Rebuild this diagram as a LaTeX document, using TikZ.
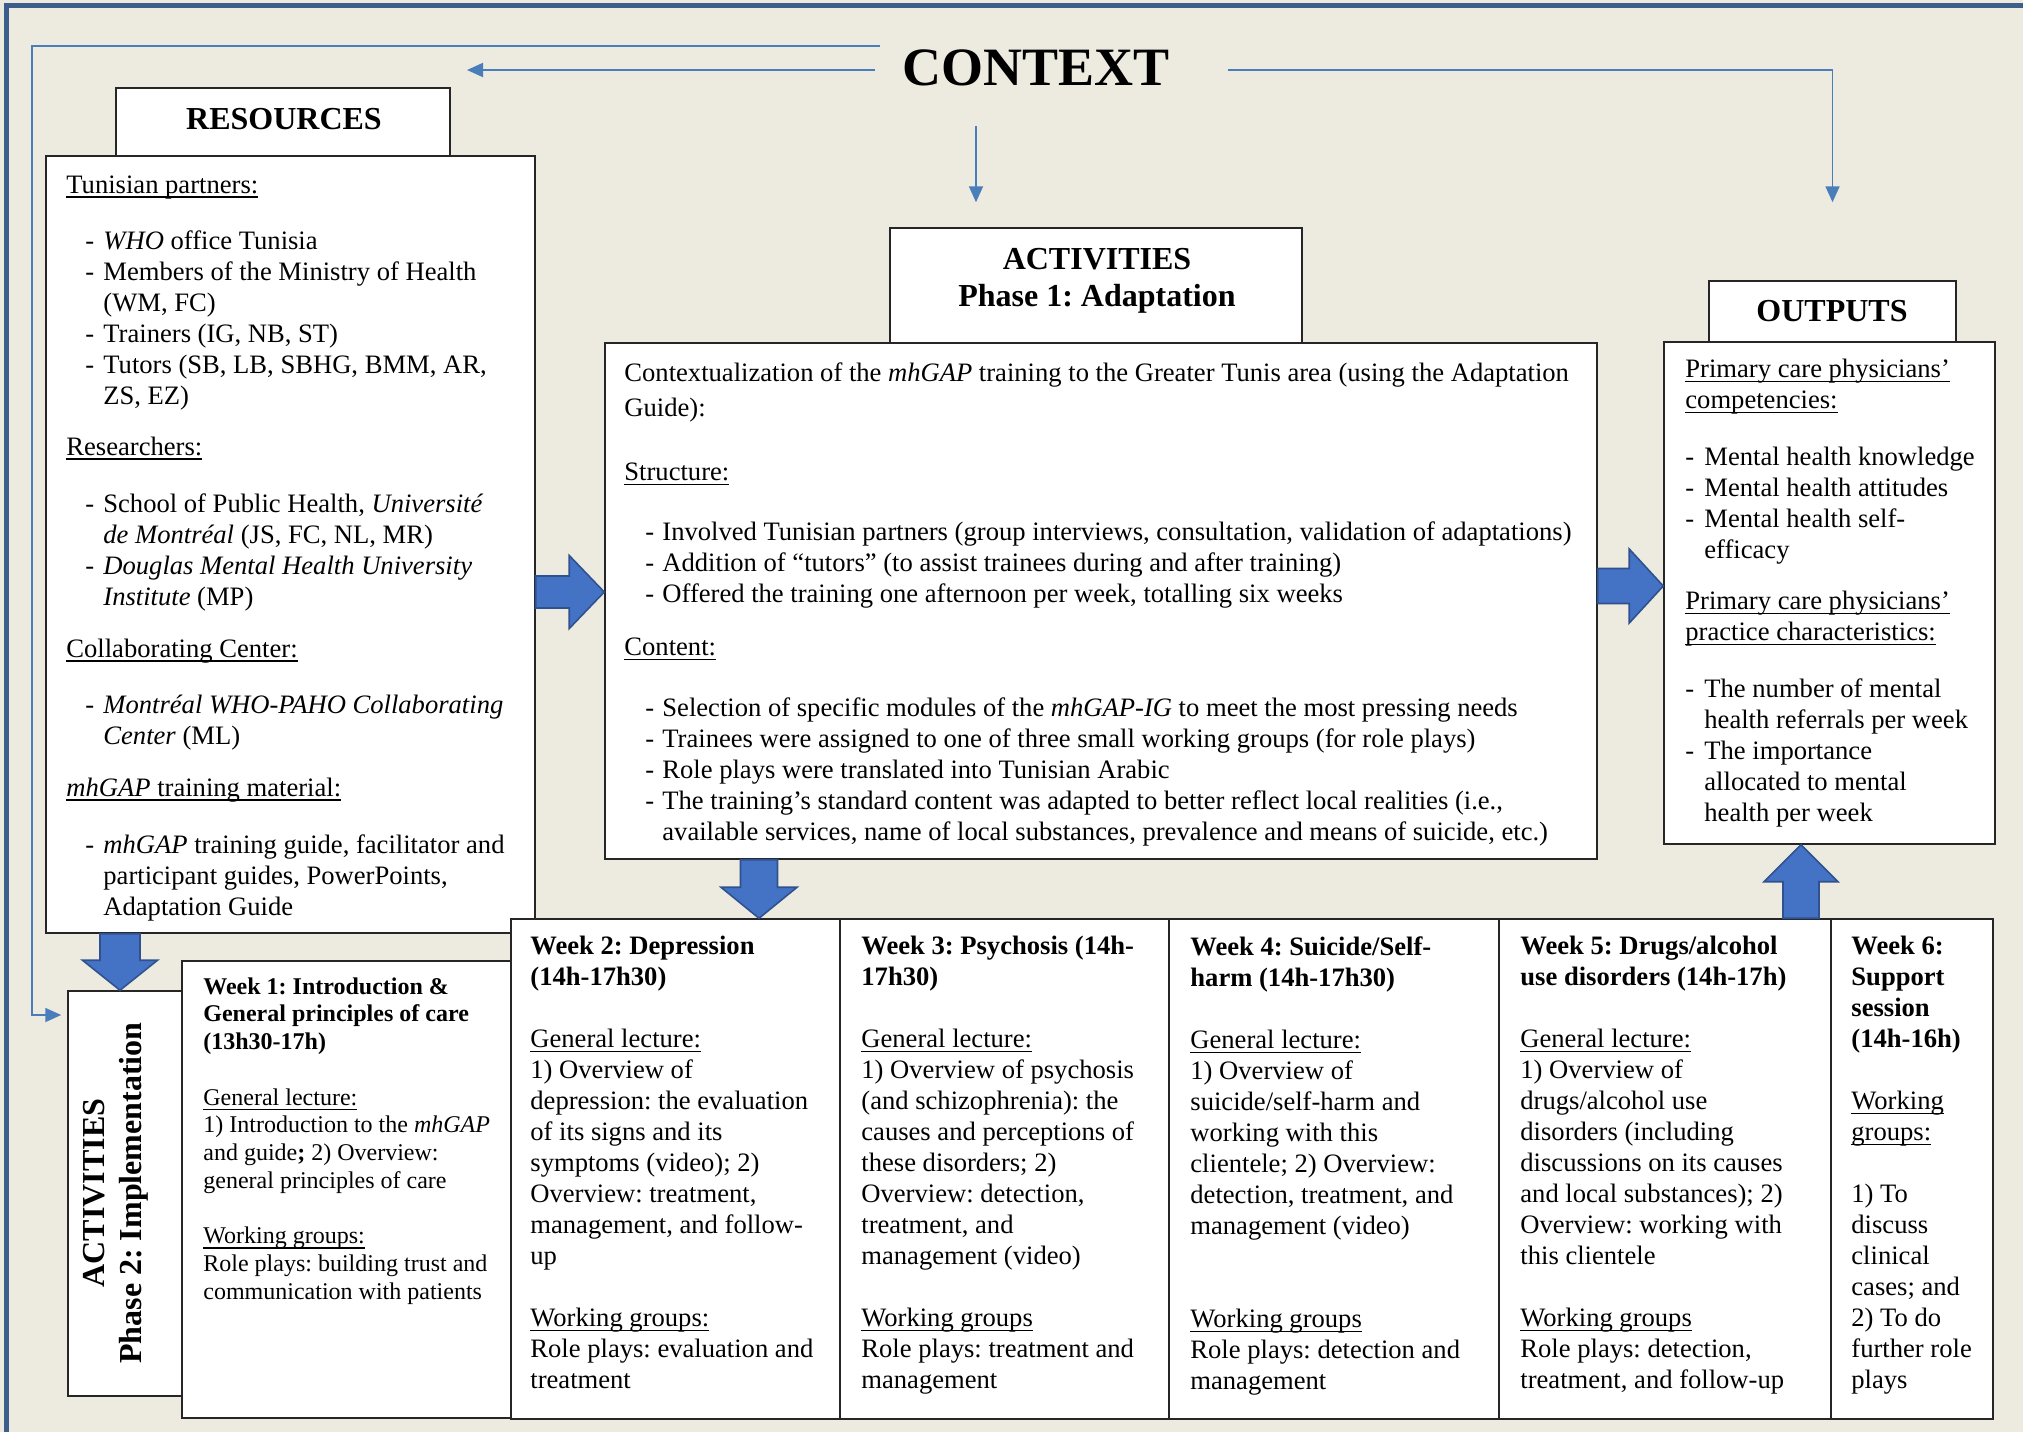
\documentclass[tikz,border=0pt]{standalone}
\usepackage{fontspec}
\setmainfont{Liberation Serif}
\usetikzlibrary{arrows.meta,calc,fit}
\frenchspacing

\definecolor{paper}{RGB}{237,234,224}
\definecolor{framecol}{RGB}{59,94,138}
\definecolor{ctxblue}{RGB}{74,126,187}
\definecolor{arrowfill}{RGB}{68,114,196}
\definecolor{arrowedge}{RGB}{47,82,143}

% underline at a fixed depth, crossing descenders
\newcommand\ul[1]{\setbox0=\hbox{#1}\rlap{\rule[-2.3pt]{\wd0}{0.6pt}}\box0}
% hanging dash: indent, then dash in a box of given width
\newcommand\dashat[2]{\hspace*{#1}\makebox[#2][l]{-}}

% block arrows: from, tip, head length, shaft half width, head half width
\newcommand\rblock[5]{\draw[blockarrow] ($(#1)+(0,-#4)$) -- ($(#2)+(-#3,-#4)$) -- ($(#2)+(-#3,-#5)$) -- (#2) -- ($(#2)+(-#3,#5)$) -- ($(#2)+(-#3,#4)$) -- ($(#1)+(0,#4)$) -- cycle;}
\newcommand\dblock[5]{\draw[blockarrow] ($(#1)+(-#4,0)$) -- ($(#2)+(-#4,-#3)$) -- ($(#2)+(-#5,-#3)$) -- (#2) -- ($(#2)+(#5,-#3)$) -- ($(#2)+(#4,-#3)$) -- ($(#1)+(#4,0)$) -- cycle;}
\newcommand\ublock[5]{\draw[blockarrow] ($(#1)+(-#4,0)$) -- ($(#2)+(-#4,#3)$) -- ($(#2)+(-#5,#3)$) -- (#2) -- ($(#2)+(#5,#3)$) -- ($(#2)+(#4,#3)$) -- ($(#1)+(#4,0)$) -- cycle;}

\begin{document}
\begin{tikzpicture}[x=0.5pt,y=-0.5pt,
  box/.style={draw=black!85, line width=0.75pt, fill=white, inner sep=0pt},
  body/.style={inner sep=0pt, anchor=north west, align=left, font=\fontsize{13.3}{15.5}\selectfont},
  small/.style={inner sep=0pt, anchor=north west, align=left, font=\fontsize{12}{13.85}\selectfont},
  head/.style={inner sep=0pt, align=center, font=\fontsize{16}{18.4}\selectfont\bfseries},
  ctxline/.style={draw=ctxblue, line width=0.9pt},
  ctxarrow/.style={ctxline, -{Triangle[length=8pt,width=7pt]}},
  blockarrow/.style={fill=arrowfill, draw=arrowedge, line width=0.8pt, line join=miter}]

\useasboundingbox (0,0) rectangle (2023,1432);
\fill[paper] (0,0) rectangle (2023,1432);
\draw[framecol, line width=2.5pt] (6,1432) -- (6,5) -- (2023,5);

% ---------- title ----------
\node[inner sep=0pt, font=\fontsize{27}{30}\selectfont\bfseries] (ctx) at (1036,67.5) {CONTEXT};

% ---------- boxes ----------
\node[box, fit={(116,88) (450,156)}] (reshead) {};
\node[box, fit={(46,156) (535,933)}] (res) {};
\node[box, fit={(890,228) (1302,343)}] (ph1head) {};
\node[box, fit={(605,343) (1597,859)}] (ph1) {};
\node[box, fit={(1709,281) (1956,342)}] (outhead) {};
\node[box, fit={(1664,342) (1995,844)}] (out) {};
\node[box, fit={(68,991) (182,1396)}] (p2) {};
\node[box, fit={(182,961) (511,1418)}] (w1) {};
\node[box, fit={(511,919) (840,1419)}] (w2) {};
\node[box, fit={(840,919) (1169,1419)}] (w3) {};
\node[box, fit={(1169,919) (1499,1419)}] (w4) {};
\node[box, fit={(1499,919) (1831,1419)}] (w5) {};
\node[box, fit={(1831,919) (1993,1419)}] (w6) {};

% ---------- headings ----------
\node[head] (reslabel) at (284,119) {RESOURCES};
\node[head] (ph1label) at (1097,281) {ACTIVITIES\\Phase 1: Adaptation};
\node[head] (outlabel) at (1832,311) {OUTPUTS};
\node[head, rotate=90] (p2label) at (116,1193) {ACTIVITIES\\Phase 2: Implementation};

% ---------- resources ----------
\node[body] (restext) at (66,175) {%
\ul{Tunisian partners:}\\[12.5pt]
\dashat{9.5pt}{9pt}\textit{WHO} office Tunisia\\
\dashat{9.5pt}{9pt}Members of the Ministry of Health\\
\hspace*{18.5pt}(WM, FC)\\
\dashat{9.5pt}{9pt}Trainers (IG, NB, ST)\\
\dashat{9.5pt}{9pt}Tutors (SB, LB, SBHG, BMM, AR,\\
\hspace*{18.5pt}ZS, EZ)\\[10pt]
\ul{Researchers:}\\[13pt]
\dashat{9.5pt}{9pt}School of Public Health, \textit{Université}\\
\hspace*{18.5pt}\textit{de Montréal} (JS, FC, NL, MR)\\
\dashat{9.5pt}{9pt}\textit{Douglas Mental Health University}\\
\hspace*{18.5pt}\textit{Institute} (MP)\\[10.5pt]
\ul{Collaborating Center:}\\[12.5pt]
\dashat{9.5pt}{9pt}\textit{Montréal WHO-PAHO Collaborating}\\
\hspace*{18.5pt}\textit{Center} (ML)\\[10.5pt]
\ul{\textit{mhGAP} training material:}\\[13pt]
\dashat{9.5pt}{9pt}\textit{mhGAP} training guide, facilitator and\\
\hspace*{18.5pt}participant guides, PowerPoints,\\
\hspace*{18.5pt}Adaptation Guide};

% ---------- phase 1 ----------
\node[body] (ph1text) at (624,362) {%
Contextualization of the \textit{mhGAP} training to the Greater Tunis area (using the Adaptation\\[2pt]
Guide):\\[16.5pt]
\ul{Structure:}\\[14.5pt]
\dashat{10.5pt}{8.5pt}Involved Tunisian partners (group interviews, consultation, validation of adaptations)\\
\dashat{10.5pt}{8.5pt}Addition of “tutors” (to assist trainees during and after training)\\
\dashat{10.5pt}{8.5pt}Offered the training one afternoon per week, totalling six weeks\\[11pt]
\ul{Content:}\\[15pt]
\dashat{10.5pt}{8.5pt}Selection of specific modules of the \textit{mhGAP-IG} to meet the most pressing needs\\
\dashat{10.5pt}{8.5pt}Trainees were assigned to one of three small working groups (for role plays)\\
\dashat{10.5pt}{8.5pt}Role plays were translated into Tunisian Arabic\\
\dashat{10.5pt}{8.5pt}The training’s standard content was adapted to better reflect local realities (i.e.,\\
\hspace*{19pt}available services, name of local substances, prevalence and means of suicide, etc.)};

% ---------- outputs ----------
\node[body] (outtext) at (1685,359) {%
\ul{Primary care physicians’}\\
\ul{competencies:}\\[13pt]
\dashat{0pt}{9.5pt}Mental health knowledge\\
\dashat{0pt}{9.5pt}Mental health attitudes\\
\dashat{0pt}{9.5pt}Mental health self-\\
\hspace*{9.5pt}efficacy\\[10pt]
\ul{Primary care physicians’}\\
\ul{practice characteristics:}\\[13pt]
\dashat{0pt}{9.5pt}The number of mental\\
\hspace*{9.5pt}health referrals per week\\
\dashat{0pt}{9.5pt}The importance\\
\hspace*{9.5pt}allocated to mental\\
\hspace*{9.5pt}health per week};

% ---------- weeks ----------
\node[small] (w1text) at (203,977) {%
\textbf{Week 1: Introduction \&}\\
\textbf{General principles of care}\\
\textbf{(13h30-17h)}\\[14pt]
\ul{General lecture:}\\
1) Introduction to the \textit{mhGAP}\\
and guide\textbf{;} 2) Overview:\\
general principles of care\\[14pt]
\ul{Working groups:}\\
Role plays: building trust and\\
communication with patients};

\node[body] (w2text) at (530,936) {%
\textbf{Week 2: Depression}\\
\textbf{(14h-17h30)}\\
~\\
\ul{General lecture:}\\
1) Overview of\\
depression: the evaluation\\
of its signs and its\\
symptoms (video); 2)\\
Overview: treatment,\\
management, and follow-\\
up\\
~\\
\ul{Working groups:}\\
Role plays: evaluation and\\
treatment};

\node[body] (w3text) at (861,936) {%
\textbf{Week 3: Psychosis (14h-}\\
\textbf{17h30)}\\
~\\
\ul{General lecture:}\\
1) Overview of psychosis\\
(and schizophrenia): the\\
causes and perceptions of\\
these disorders; 2)\\
Overview: detection,\\
treatment, and\\
management (video)\\
~\\
\ul{Working groups}\\
Role plays: treatment and\\
management};

\node[body] (w4text) at (1190,936) {%
\textbf{Week 4: Suicide/Self-}\\
\textbf{harm (14h-17h30)}\\
~\\
\ul{General lecture:}\\
1) Overview of\\
suicide/self-harm and\\
working with this\\
clientele; 2) Overview:\\
detection, treatment, and\\
management (video)\\
~\\
~\\
\ul{Working groups}\\
Role plays: detection and\\
management};

\node[body] (w5text) at (1520,936) {%
\textbf{Week 5: Drugs/alcohol}\\
\textbf{use disorders (14h-17h)}\\
~\\
\ul{General lecture:}\\
1) Overview of\\
drugs/alcohol use\\
disorders (including\\
discussions on its causes\\
and local substances); 2)\\
Overview: working with\\
this clientele\\
~\\
\ul{Working groups}\\
Role plays: detection,\\
treatment, and follow-up};

\node[body] (w6text) at (1851,936) {%
\textbf{Week 6:}\\
\textbf{Support}\\
\textbf{session}\\
\textbf{(14h-16h)}\\
~\\
\ul{Working}\\
\ul{groups:}\\
~\\
1) To\\
discuss\\
clinical\\
cases; and\\
2) To do\\
further role\\
plays};

% ---------- block arrows ----------
\rblock{res.east |- 0,592}{ph1.west |- 0,592}{35}{16}{36.5}
\rblock{ph1.east |- 0,586}{out.west |- 0,586}{34}{17.5}{37}
\dblock{res.south -| 120,0}{p2.north -| 120,0}{30}{20}{37.5}
\dblock{ph1.south -| 759,0}{w2.north -| 759,0}{31}{18.5}{38}
\ublock{w5.north -| 1801,0}{out.south -| 1801,0}{37}{18}{37}

% ---------- context connectors ----------
\coordinate (ctxtop) at ($(ctx.west)+(-22,-21.5)$);
\coordinate (ctxleft) at ($(ctx.west)+(-27,2.5)$);
\coordinate (ctxright) at ($(ctx.east)+(58,2.5)$);
\coordinate (ctxdown) at (976,126);
\coordinate (resend) at (467,70);
\coordinate (ph1end) at ($(ph1head.north -| ctxdown)+(0,-25)$);
\coordinate (outend) at ($(outhead.north)+(0,-78)$);
\coordinate (leftcorner) at (32,46);

\draw[ctxarrow] (ctxleft) -- (resend);
\draw[ctxarrow] (ctxdown) -- (ph1end);
\draw[ctxarrow] (ctxright) -| (outend);
\draw[ctxarrow] (ctxtop) -- (leftcorner) |- ($(p2.west |- 0,1015)+(-6,0)$);
\end{tikzpicture}
\end{document}
